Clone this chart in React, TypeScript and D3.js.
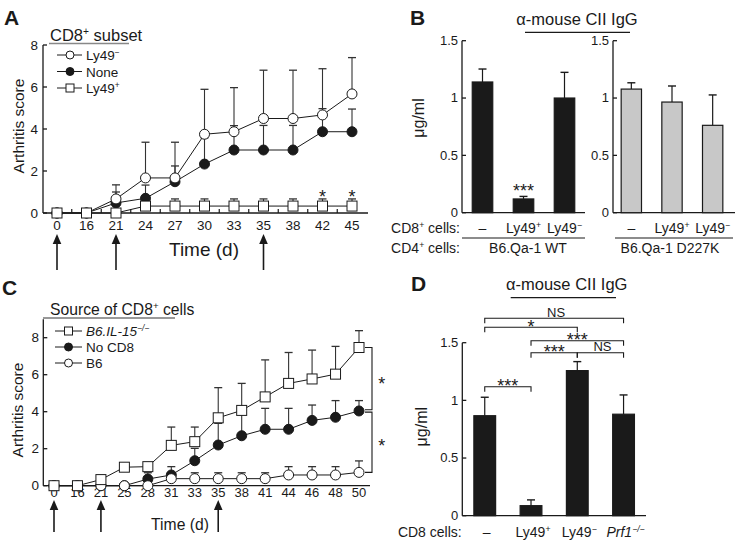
import React from "react";
import * as d3 from "d3";

const FONT = "'Liberation Sans', Arial, Helvetica, sans-serif";
const INK = "#1a1a1a";
const ERR = "#333";

// ---------------- Panel A data ----------------
const daysA = ["0", "16", "21", "24", "27", "30", "33", "35", "38", "42", "45"];
const aLy49Neg = [0, 0, 0.67, 1.67, 1.67, 3.75, 3.87, 4.5, 4.5, 4.67, 5.67];
const aLy49NegErr = [0, 0, 0.67, 1.7, 1.7, 2.14, 2.1, 2.3, 2.3, 2.2, 1.73];
const aNone = [0, 0, 0.48, 0.7, 1.49, 2.33, 3.0, 3.0, 3.0, 3.87, 3.87];
const aNoneErr = [0, 0, 0.52, 0.63, 0.75, 1.25, 1.16, 1.17, 1.17, 1.1, 1.08];
const aLy49Pos = [0, 0, 0, 0.33, 0.33, 0.33, 0.33, 0.33, 0.33, 0.33, 0.33];
const aLy49PosErr = [0, 0, 0, 0.34, 0.34, 0.34, 0.34, 0.34, 0.34, 0.34, 0.34];
const aTicks = [0, 2, 4, 6, 8];
const aArrowDays = ["0", "21", "35"];
const aStarDays = ["42", "45"];

// ---------------- Panel C data ----------------
const daysC = ["0", "16", "21", "25", "28", "31", "33", "35", "38", "41", "44", "46", "48", "50"];
const cIL15 = [0, 0, 0.33, 1.0, 1.03, 2.18, 2.38, 3.67, 4.07, 4.8, 5.53, 5.77, 6.03, 7.47];
const cIL15Err = [0, 0, 0, 0, 0.07, 0.99, 0.79, 1.63, 1.46, 2.0, 1.67, 1.56, 1.5, 0.91];
const cNoCD8 = [0, 0, 0, 0, 0.36, 0.58, 1.35, 2.2, 2.7, 3.05, 3.05, 3.53, 3.7, 4.04];
const cNoCD8Err = [0, 0, 0, 0, 0.34, 0.45, 0.67, 1.17, 1.3, 1.13, 1.13, 0.83, 0.9, 0.56];
const cB6 = [0, 0, 0, 0, 0, 0.38, 0.38, 0.38, 0.38, 0.38, 0.58, 0.58, 0.58, 0.72];
const cB6Err = [0, 0, 0, 0, 0, 0.32, 0.32, 0.32, 0.32, 0.32, 0.45, 0.45, 0.45, 0.62];
const cTicks = [0, 2, 4, 6, 8];
const cArrowDays = ["0", "21", "35"];

// ---------------- Panel B data ----------------
const bCats = ["–", "Ly49+", "Ly49−"];
const bWT = [1.14, 0.12, 1.0];
const bWTErr = [0.113, 0.022, 0.224];
const bD227K = [1.078, 0.965, 0.762];
const bD227KErr = [0.055, 0.14, 0.265];
const bTicks = [0, 0.5, 1, 1.5];

// ---------------- Panel D data ----------------
const dCats = ["–", "Ly49+", "Ly49−", "Prf1−/−"];
const dVals = [0.867, 0.087, 1.258, 0.88];
const dErr = [0.16, 0.05, 0.078, 0.167];
const dTicks = [0, 0.5, 1, 1.5];
// comparisons: [fromIndex, toIndex, label]
const dComparisons: [number, number, string][] = [
  [0, 3, "NS"],
  [0, 2, "*"],
  [1, 3, "***"],
  [1, 2, "***"],
  [2, 3, "NS"],
  [0, 1, "***"],
];

type Part = string | { t: string; sup?: boolean };

function Rich({
  x, y, size, parts, anchor = "start", italic = false, weight, rotate,
}: {
  x: number; y: number; size: number; parts: Part[]; anchor?: string;
  italic?: boolean; weight?: string; rotate?: number;
}) {
  const out: any[] = [];
  let shifted = false;
  parts.forEach((p, i) => {
    const isSup = typeof p !== "string" && !!p.sup;
    const t = typeof p === "string" ? p : p.t;
    let dy: number | undefined;
    if (isSup && !shifted) { dy = -size * 0.38; shifted = true; }
    else if (!isSup && shifted) { dy = size * 0.38; shifted = false; }
    out.push(
      <tspan key={i} dy={dy} fontSize={isSup ? size * 0.62 : undefined}>{t}</tspan>
    );
  });
  return (
    <text
      x={x} y={y} fontSize={size} textAnchor={anchor as any}
      fontStyle={italic ? "italic" : undefined} fontWeight={weight}
      fontFamily={FONT} fill={INK}
      transform={rotate ? `rotate(${rotate},${x},${y})` : undefined}
    >{out}</text>
  );
}

function catParts(s: string): Part[] {
  if (s.endsWith("−/−")) return [s.slice(0, -3), { t: "−/−", sup: true }];
  if (s.length > 1 && (s.endsWith("+") || s.endsWith("−"))) return [s.slice(0, -1), { t: s.slice(-1), sup: true }];
  return [s];
}

function Marker({ kind, x, y, r }: { kind: string; x: number; y: number; r: number }) {
  if (kind === "square")
    return <rect x={x - r} y={y - r} width={2 * r} height={2 * r} fill="#fff" stroke={INK} strokeWidth={1} />;
  return <circle cx={x} cy={y} r={r} fill={kind === "filled" ? INK : "#fff"} stroke={INK} strokeWidth={1} />;
}

function Arrow({ x, top, bottom }: { x: number; top: number; bottom: number }) {
  return (
    <g>
      <line x1={x} x2={x} y1={bottom} y2={top + 8} stroke={INK} strokeWidth={1.6} />
      <path d={`M${x},${top} L${x - 4.3},${top + 10} L${x + 4.3},${top + 10} Z`} fill={INK} />
    </g>
  );
}

function Star({ x, cy, text = "*", size = 18 }: { x: number; cy: number; text?: string; size?: number }) {
  return (
    <text x={x} y={cy + size * 0.58} fontSize={size} textAnchor="middle" fontFamily={FONT} fill={INK}>{text}</text>
  );
}

type Series = { label: Part[]; kind: string; values: number[]; errs: number[]; italic?: boolean };

function Lines({ x, y, cats, series, r }: { x: any; y: any; cats: string[]; series: Series[]; r: number }) {
  const line = d3.line<number>().x((_, i) => x(cats[i])).y((d) => y(d));
  return (
    <g>
      {series.map((s, si) => (
        <g key={"e" + si}>
          {s.values.map((v, i) =>
            s.errs[i] > 0 ? (
              <g key={i}>
                <line x1={x(cats[i])} x2={x(cats[i])} y1={y(v)} y2={y(v + s.errs[i])} stroke={ERR} strokeWidth={1.1} />
                <line x1={x(cats[i]) - 4} x2={x(cats[i]) + 4} y1={y(v + s.errs[i])} y2={y(v + s.errs[i])} stroke={ERR} strokeWidth={1.3} />
              </g>
            ) : null
          )}
        </g>
      ))}
      {series.map((s, si) => (
        <path key={"l" + si} d={line(s.values) || ""} fill="none" stroke={INK} strokeWidth={1} />
      ))}
      {series.map((s, si) => (
        <g key={"m" + si}>
          {s.values.map((v, i) => <Marker key={i} kind={s.kind} x={x(cats[i])} y={y(v)} r={r} />)}
        </g>
      ))}
    </g>
  );
}

function Legend({ items, x0, x1, mx, tx, ys }: { items: Series[]; x0: number; x1: number; mx: number; tx: number; ys: number[] }) {
  return (
    <g>
      {items.map((s, i) => (
        <g key={i}>
          <line x1={x0} x2={x1} y1={ys[i]} y2={ys[i]} stroke={INK} strokeWidth={1} />
          <Marker kind={s.kind} x={mx} y={ys[i]} r={4} />
          <Rich x={tx} y={ys[i] + 5} size={13.5} parts={s.label} italic={s.italic} />
        </g>
      ))}
    </g>
  );
}

function PanelA() {
  const x = d3.scalePoint<string>().domain(daysA).range([57, 352]);
  const y = d3.scaleLinear().domain([0, 8]).range([213, 45]);
  const series: Series[] = [
    { label: ["None"], kind: "filled", values: aNone, errs: aNoneErr },
    { label: ["Ly49", { t: "−", sup: true }], kind: "open", values: aLy49Neg, errs: aLy49NegErr },
    { label: ["Ly49", { t: "+", sup: true }], kind: "square", values: aLy49Pos, errs: aLy49PosErr },
  ];
  const mids = daysA.slice(1).map((d, i) => ((x(daysA[i]) as number) + (x(d) as number)) / 2);
  return (
    <g>
      <text x={4} y={25} fontSize={21} fontWeight="bold" fontFamily={FONT} fill={INK}>A</text>
      <Rich x={50} y={41} size={16.5} parts={["CD8", { t: "+", sup: true }, " subset"]} />
      <line x1={49} x2={129} y1={43.5} y2={43.5} stroke="#888" strokeWidth={1.3} />
      <Legend items={[series[1], series[0], series[2]]} x0={57} x1={82} mx={70} tx={86} ys={[55, 71.5, 88]} />
      <line x1={43} x2={43} y1={y(8)} y2={y(0)} stroke={INK} strokeWidth={1.3} />
      <line x1={43} x2={368} y1={y(0)} y2={y(0)} stroke={INK} strokeWidth={1.3} />
      {aTicks.map((t) => (
        <g key={t}>
          <line x1={43} x2={47} y1={y(t)} y2={y(t)} stroke={INK} strokeWidth={1.3} />
          <text x={38} y={y(t) + 4.7} fontSize={13.5} textAnchor="end" fontFamily={FONT} fill={INK}>{t}</text>
        </g>
      ))}
      {mids.map((m, i) => (
        <line key={i} x1={m} x2={m} y1={y(0)} y2={y(0) - 4} stroke={INK} strokeWidth={1.2} />
      ))}
      {daysA.map((d) => (
        <text key={d} x={x(d)} y={230} fontSize={13.5} textAnchor="middle" fontFamily={FONT} fill={INK}>{d}</text>
      ))}
      <Lines x={x} y={y} cats={daysA} series={series} r={5} />
      {aStarDays.map((d) => <Star key={d} x={x(d) as number} cy={192.5} />)}
      <text x={204} y={256} fontSize={19} textAnchor="middle" fontFamily={FONT} fill={INK}>Time (d)</text>
      <text x={24} y={126} fontSize={15.5} textAnchor="middle" fontFamily={FONT} fill={INK} transform="rotate(-90,24,126)">Arthritis score</text>
      {aArrowDays.map((d) => <Arrow key={d} x={x(d) as number} top={234} bottom={270} />)}
    </g>
  );
}

function PanelC() {
  const x = d3.scalePoint<string>().domain(daysC).range([54, 359]);
  const y = d3.scaleLinear().domain([0, 9]).range([485.7, 319.2]);
  const series: Series[] = [
    { label: ["No CD8"], kind: "filled", values: cNoCD8, errs: cNoCD8Err },
    { label: ["B6"], kind: "open", values: cB6, errs: cB6Err },
    { label: ["B6.IL-15", { t: "−/−", sup: true }], kind: "square", values: cIL15, errs: cIL15Err, italic: true },
  ];
  const last = daysC.length - 1;
  const yS = y(cIL15[last]), yN = y(cNoCD8[last]), yB = y(cB6[last]);
  const bx = 372;
  return (
    <g>
      <text x={2} y={295} fontSize={21} fontWeight="bold" fontFamily={FONT} fill={INK}>C</text>
      <Rich x={50} y={315} size={15.7} parts={["Source of CD8", { t: "+", sup: true }, " cells"]} />
      <line x1={43} x2={175} y1={318} y2={318} stroke="#777" strokeWidth={1.3} />
      <Legend items={[series[2], series[0], series[1]]} x0={55} x1={82} mx={68.5} tx={86} ys={[331, 347, 363]} />
      <line x1={43.3} x2={43.3} y1={y(9)} y2={y(0)} stroke={INK} strokeWidth={1.3} />
      <line x1={43.3} x2={370} y1={y(0)} y2={y(0)} stroke={INK} strokeWidth={1.3} />
      {cTicks.map((t) => (
        <g key={t}>
          <line x1={43.3} x2={47.3} y1={y(t)} y2={y(t)} stroke={INK} strokeWidth={1.3} />
          <text x={39} y={y(t) + 4.7} fontSize={13.5} textAnchor="end" fontFamily={FONT} fill={INK}>{t}</text>
        </g>
      ))}
      {daysC.map((d) => (
        <text key={d} x={x(d)} y={496.5} fontSize={13} textAnchor="middle" fontFamily={FONT} fill={INK}>{d}</text>
      ))}
      <Lines x={x} y={y} cats={daysC} series={series} r={5} />
      <path d={`M365,${yS} H${bx} V${yN - 1.2} H365`} fill="none" stroke={INK} strokeWidth={1.1} />
      <path d={`M365,${yN + 1.2} H${bx} V${yB} H365`} fill="none" stroke={INK} strokeWidth={1.1} />
      <Star x={381.7} cy={(yS + yN) / 2} />
      <Star x={381.7} cy={(yN + yB) / 2} />
      <text x={180} y={530} fontSize={15.7} textAnchor="middle" fontFamily={FONT} fill={INK}>Time (d)</text>
      <text x={23} y={410} fontSize={15.5} textAnchor="middle" fontFamily={FONT} fill={INK} transform="rotate(-90,23,410)">Arthritis score</text>
      {cArrowDays.map((d) => <Arrow key={d} x={x(d) as number} top={500} bottom={532} />)}
    </g>
  );
}

function Bars({ x, y, cats, vals, errs, fill }: { x: any; y: any; cats: string[]; vals: number[]; errs: number[]; fill: string }) {
  const bw = x.bandwidth();
  return (
    <g>
      {cats.map((c, i) => {
        const cx = x(c) + bw / 2;
        return (
          <g key={c}>
            <line x1={cx} x2={cx} y1={y(vals[i])} y2={y(vals[i] + errs[i])} stroke={INK} strokeWidth={1.2} />
            <line x1={cx - 4} x2={cx + 4} y1={y(vals[i] + errs[i])} y2={y(vals[i] + errs[i])} stroke={INK} strokeWidth={1.4} />
            <rect x={x(c)} y={y(vals[i])} width={bw} height={y(0) - y(vals[i])} fill={fill} stroke={INK} strokeWidth={1.2} />
          </g>
        );
      })}
    </g>
  );
}

function YAxis({ x0, y, ticks, x1 }: { x0: number; y: any; ticks: number[]; x1: number }) {
  return (
    <g>
      <line x1={x0} x2={x0} y1={y(1.5)} y2={y(0)} stroke={INK} strokeWidth={1.3} />
      <line x1={x0} x2={x1} y1={y(0)} y2={y(0)} stroke={INK} strokeWidth={1.3} />
      {ticks.map((t) => (
        <g key={t}>
          <line x1={x0} x2={x0 + 4} y1={y(t)} y2={y(t)} stroke={INK} strokeWidth={1.3} />
          <text x={x0 - 4} y={y(t) + 4.3} fontSize={13} textAnchor="end" fontFamily={FONT} fill={INK}>{d3.format("")(t)}</text>
        </g>
      ))}
    </g>
  );
}

function PanelB() {
  const y = d3.scaleLinear().domain([0, 1.5]).range([212.7, 40.7]);
  const xL = d3.scaleBand<string>().domain(bCats).range([462, 585]).paddingInner(0.5).paddingOuter(0.25);
  const xR = d3.scaleBand<string>().domain(bCats).range([611, 733]).paddingInner(0.5).paddingOuter(0.25);
  return (
    <g>
      <text x={410} y={25} fontSize={21} fontWeight="bold" fontFamily={FONT} fill={INK}>B</text>
      <text x={577} y={25} fontSize={16.5} textAnchor="middle" fontFamily={FONT} fill={INK}>α-mouse CII IgG</text>
      <line x1={525} x2={630} y1={32.3} y2={32.3} stroke={INK} strokeWidth={1.2} />
      <YAxis x0={462} y={y} ticks={bTicks} x1={585} />
      <YAxis x0={613} y={y} ticks={bTicks} x1={735} />
      <Bars x={xL} y={y} cats={bCats} vals={bWT} errs={bWTErr} fill={INK} />
      <Bars x={xR} y={y} cats={bCats} vals={bD227K} errs={bD227KErr} fill="#c8c8c8" />
      <Star x={(xL("Ly49+") as number) + xL.bandwidth() / 2} cy={186.7} text="***" />
      <text x={418} y={118} fontSize={16} textAnchor="middle" fontFamily={FONT} fill={INK} transform="rotate(-90,418,118)" dominantBaseline="central">μg/ml</text>
      <Rich x={460} y={233} size={14} anchor="end" parts={["CD8", { t: "+", sup: true }, " cells:"]} />
      {bCats.map((c) => (
        <g key={c}>
          <Rich x={(xL(c) as number) + xL.bandwidth() / 2} y={233} size={14} anchor="middle" parts={catParts(c)} />
          <Rich x={(xR(c) as number) + xR.bandwidth() / 2} y={233} size={14} anchor="middle" parts={catParts(c)} />
        </g>
      ))}
      <line x1={462} x2={585} y1={238} y2={238} stroke={INK} strokeWidth={1.2} />
      <line x1={615} x2={733} y1={238} y2={238} stroke={INK} strokeWidth={1.2} />
      <Rich x={460} y={253} size={14} anchor="end" parts={["CD4", { t: "+", sup: true }, " cells:"]} />
      <text x={528} y={253} fontSize={14} textAnchor="middle" fontFamily={FONT} fill={INK}>B6.Qa-1 WT</text>
      <text x={670} y={253} fontSize={14} textAnchor="middle" fontFamily={FONT} fill={INK}>B6.Qa-1 D227K</text>
    </g>
  );
}

function PanelD() {
  const y = d3.scaleLinear().domain([0, 1.5]).range([515.7, 342.7]);
  const x = d3.scaleBand<string>().domain(dCats).range([462.3, 646]).paddingInner(0.53).paddingOuter(0.25);
  const cx = (i: number) => (x(dCats[i]) as number) + x.bandwidth() / 2;
  const levels = [318.3, 327.3, 340.7, 352.7, 352.7, 386.7];
  return (
    <g>
      <text x={411} y={291} fontSize={21} fontWeight="bold" fontFamily={FONT} fill={INK}>D</text>
      <text x={566.7} y={290} fontSize={16.5} textAnchor="middle" fontFamily={FONT} fill={INK}>α-mouse CII IgG</text>
      <line x1={510.7} x2={616} y1={297.7} y2={297.7} stroke={INK} strokeWidth={1.2} />
      <YAxis x0={462.3} y={y} ticks={dTicks} x1={646} />
      <Bars x={x} y={y} cats={dCats} vals={dVals} errs={dErr} fill={INK} />
      {dComparisons.map(([a, b, lab], i) => {
        const lv = levels[i];
        const xa = cx(a), xb = cx(b);
        const mid = (xa + xb) / 2;
        return (
          <g key={i}>
            <path d={`M${xa},${lv + 5} V${lv} H${xb} V${lv + 5}`} fill="none" stroke={INK} strokeWidth={1.1} />
            {lab === "NS" ? (
              <text x={mid + 2} y={lv - 1.5} fontSize={13} textAnchor="middle" fontFamily={FONT} fill={INK}>NS</text>
            ) : (
              <Star x={mid} cy={lv - 5} text={lab} />
            )}
          </g>
        );
      })}
      <text x={421.7} y={426.7} fontSize={16} textAnchor="middle" fontFamily={FONT} fill={INK} transform="rotate(-90,421.7,426.7)" dominantBaseline="central">μg/ml</text>
      <text x={461.7} y={537} fontSize={14} textAnchor="end" fontFamily={FONT} fill={INK}>CD8 cells:</text>
      {dCats.map((c) => (
        <Rich key={c} x={cx(dCats.indexOf(c)) + 2} y={537} size={14} anchor="middle" parts={catParts(c)} italic={c.startsWith("Prf1")} />
      ))}
    </g>
  );
}

export default function App() {
  return (
    <svg width={739} height={545} style={{ position: "absolute", left: 0, top: 0, background: "#fff" }} fontFamily={FONT}>
      <rect x={0} y={0} width={739} height={545} fill="#fff" />
      <PanelA />
      <PanelB />
      <PanelC />
      <PanelD />
    </svg>
  );
}
